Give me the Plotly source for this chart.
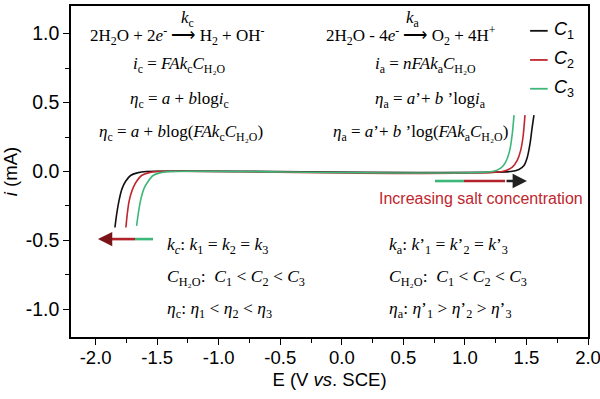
import plotly.graph_objects as go

# ---------------- data ----------------
series_names = ["C1", "C2", "C3"]
series_colors = ["#111111", "#c0262d", "#3db679"]

E_C1 = [-1.843, -1.829, -1.810, -1.786, -1.756, -1.716, -1.662, -1.586,
        1.372, 1.439, 1.480, 1.507, 1.529, 1.547, 1.561]
I_C1 = [-0.406, -0.309, -0.211, -0.126, -0.071, -0.029, -0.010, 0.0,
        0.0, 0.015, 0.044, 0.104, 0.202, 0.323, 0.409]

E_C2 = [-1.754, -1.743, -1.727, -1.699, -1.667, -1.627, -1.573, -1.505,
        1.304, 1.385, 1.425, 1.453, 1.472, 1.488]
I_C2 = [-0.406, -0.309, -0.211, -0.126, -0.071, -0.029, -0.010, 0.0,
        0.0, 0.031, 0.080, 0.153, 0.250, 0.409]

E_C3 = [-1.667, -1.654, -1.635, -1.608, -1.573, -1.533, -1.478, -1.397,
        1.223, 1.291, 1.331, 1.364, 1.385, 1.399]
I_C3 = [-0.394, -0.309, -0.211, -0.126, -0.071, -0.029, -0.010, 0.0,
        0.0, 0.024, 0.068, 0.153, 0.275, 0.409]

x_ticks = [-2.0, -1.5, -1.0, -0.5, 0.0, 0.5, 1.0, 1.5, 2.0]
y_ticks = [-1.0, -0.5, 0.0, 0.5, 1.0]
x_range = [-2.2, 2.0]
y_range = [-1.2, 1.2]

SERIF = "Liberation Serif, Times New Roman, serif"
SANS = "Liberation Sans, Arial, sans-serif"

fig = go.Figure()
for name, col, ex, iy in zip(series_names, series_colors,
                             [E_C1, E_C2, E_C3], [I_C1, I_C2, I_C3]):
    fig.add_trace(go.Scatter(x=ex, y=iy, mode="lines", name=name,
                             line=dict(color=col, width=1.6, shape="spline", smoothing=0.8),
                             showlegend=False))

# ---------------- manual legend ----------------
leg_rows_y = [0.925, 0.837, 0.750]
for k, (name, col) in enumerate(zip(series_names, series_colors)):
    fig.add_shape(type="line", xref="paper", yref="paper",
                  x0=0.888, x1=0.922, y0=leg_rows_y[k], y1=leg_rows_y[k],
                  line=dict(color=col, width=1.8))
    fig.add_annotation(xref="paper", yref="paper", x=0.930, y=leg_rows_y[k],
                       xanchor="left", yanchor="middle", showarrow=False,
                       text="<i>C</i><sub>%s</sub>" % name[1:],
                       font=dict(family=SANS, size=18, color="black"))

# ---------------- equations ----------------
def txt(x, y, s, anchor="center", size=17, color="black", family=SERIF):
    fig.add_annotation(x=x, y=y, xref="x", yref="y", text=s, showarrow=False,
                       xanchor=anchor, yanchor="middle",
                       font=dict(family=family, size=size, color=color))

# top-left block
txt(-1.331, 0.985, "2H<sub>2</sub>O + 2<i>e</i><sup>-</sup> ⟶ H<sub>2</sub> + OH<sup>-</sup>")
txt(-1.250, 1.105, "<i>k</i><sub>c</sub>")
txt(-1.315, 0.772, "<i>i</i><sub>c</sub> = <i>FAk</i><sub>c</sub><i>C</i><sub>H₂O</sub>")
txt(-1.315, 0.515, "<i>η</i><sub>c</sub> = <i>a</i> + <i>b</i>log<i>i</i><sub>c</sub>")
txt(-1.306, 0.280, "<i>η</i><sub>c</sub> = <i>a</i> + <i>b</i>log(<i>FAk</i><sub>c</sub><i>C</i><sub>H₂O</sub>)")

# top-right block
txt(0.562, 0.985, "2H<sub>2</sub>O - 4<i>e</i><sup>-</sup> ⟶ O<sub>2</sub> + 4H<sup>+</sup>")
txt(0.578, 1.105, "<i>k</i><sub>a</sub>")
txt(0.676, 0.772, "<i>i</i><sub>a</sub> = <i>nFAk</i><sub>a</sub><i>C</i><sub>H₂O</sub>")
txt(0.724, 0.515, "<i>η</i><sub>a</sub> = <i>a</i>’+ <i>b</i> ’log<i>i</i><sub>a</sub>")
txt(0.643, 0.280, "<i>η</i><sub>a</sub> = <i>a</i>’+ <i>b</i> ’log(<i>FAk</i><sub>a</sub><i>C</i><sub>H₂O</sub>)")

# bottom-left block
BS = 17.5
txt(-1.436, -0.533, "<i>k<sub>c</sub></i>: <i>k</i><sub>1</sub> = <i>k</i><sub>2</sub> = <i>k</i><sub>3</sub>", anchor="left", size=BS)
txt(-1.436, -0.772, "<i>C</i><sub>H₂O</sub>:  <i>C</i><sub>1</sub> &lt; <i>C</i><sub>2</sub> &lt; <i>C</i><sub>3</sub>", anchor="left", size=BS)
txt(-1.436, -1.004, "<i>η</i><sub>c</sub>: <i>η</i><sub>1</sub> &lt; <i>η</i><sub>2</sub> &lt; <i>η</i><sub>3</sub>", anchor="left", size=BS)

# bottom-right block
txt(0.367, -0.533, "<i>k</i><sub>a</sub>: <i>k</i>’<sub>1</sub> = <i>k</i>’<sub>2</sub> = <i>k</i>’<sub>3</sub>", anchor="left", size=BS)
txt(0.367, -0.772, "<i>C</i><sub>H₂O</sub>:  <i>C</i><sub>1</sub> &lt; <i>C</i><sub>2</sub> &lt; <i>C</i><sub>3</sub>", anchor="left", size=BS)
txt(0.367, -1.004, "<i>η</i><sub>a</sub>: <i>η</i>’<sub>1</sub> &gt; <i>η</i>’<sub>2</sub> &gt; <i>η</i>’<sub>3</sub>", anchor="left", size=BS)

txt(1.131, -0.195, "Increasing salt concentration", size=16, color="#c0262d", family=SANS)

# ---------------- arrows (gradient made of segments) ----------------
def seg(x0, x1, y, col, w=2.6):
    fig.add_shape(type="line", xref="x", yref="y", x0=x0, x1=x1, y0=y, y1=y,
                  line=dict(color=col, width=w))

def head(x_tail, x_tip, y, col):
    fig.add_annotation(x=x_tip, y=y, ax=x_tail, ay=y, xref="x", yref="y",
                       axref="x", ayref="y", text="", showarrow=True,
                       arrowhead=2, arrowsize=1.1, arrowwidth=2.6,
                       arrowcolor=col, standoff=0)

y_left_arrow = -0.49
seg(-1.534, -1.680, y_left_arrow, series_colors[2])
seg(-1.680, -1.883, y_left_arrow, "#b3222a")
head(-1.883, -1.981, y_left_arrow, "#7a1418")

y_right_arrow = -0.069
seg(0.757, 0.992, y_right_arrow, series_colors[2])
seg(0.992, 1.326, y_right_arrow, "#b3222a")
head(1.326, 1.504, y_right_arrow, "#222222")

# ---------------- axes ----------------
axis_common = dict(showgrid=False, zeroline=False, showline=True, mirror=True,
                   linecolor="black", linewidth=1.5, ticks="outside",
                   ticklen=6, tickwidth=1.3, tickcolor="black", automargin=False,
                   ticklabeloverflow="allow")

fig.update_xaxes(range=x_range, tickvals=x_ticks,
                 ticktext=["%.1f" % v for v in x_ticks],
                 ticklabelstandoff=-3,
                 tickfont=dict(family=SANS, size=18.5, color="black"),
                 minor=dict(ticks="outside", ticklen=4, tickwidth=1.2,
                            tickcolor="black", dtick=0.25, tick0=0),
                 title=dict(text="E (V <i>vs</i>. SCE)", standoff=6,
                            font=dict(family=SANS, size=18.5, color="black")),
                 **axis_common)
fig.update_yaxes(range=y_range, tickvals=y_ticks,
                 ticktext=["%.1f" % v for v in y_ticks],
                 tickfont=dict(family=SANS, size=19.5, color="black"),
                 minor=dict(ticks="outside", ticklen=4, tickwidth=1.2,
                            tickcolor="black", dtick=0.25, tick0=0),
                 title=dict(text="<i>i</i> (mA)", standoff=3,
                            font=dict(family=SANS, size=18.5, color="black")),
                 **axis_common)

fig.update_layout(width=600, height=399,
                  margin=dict(l=71, r=12, t=6, b=62),
                  paper_bgcolor="white", plot_bgcolor="white",
                  showlegend=False)

fig.write_html("out.html", config={"displayModeBar": False},
               post_script="document.body.style.margin='0px';document.body.style.padding='0px';")
